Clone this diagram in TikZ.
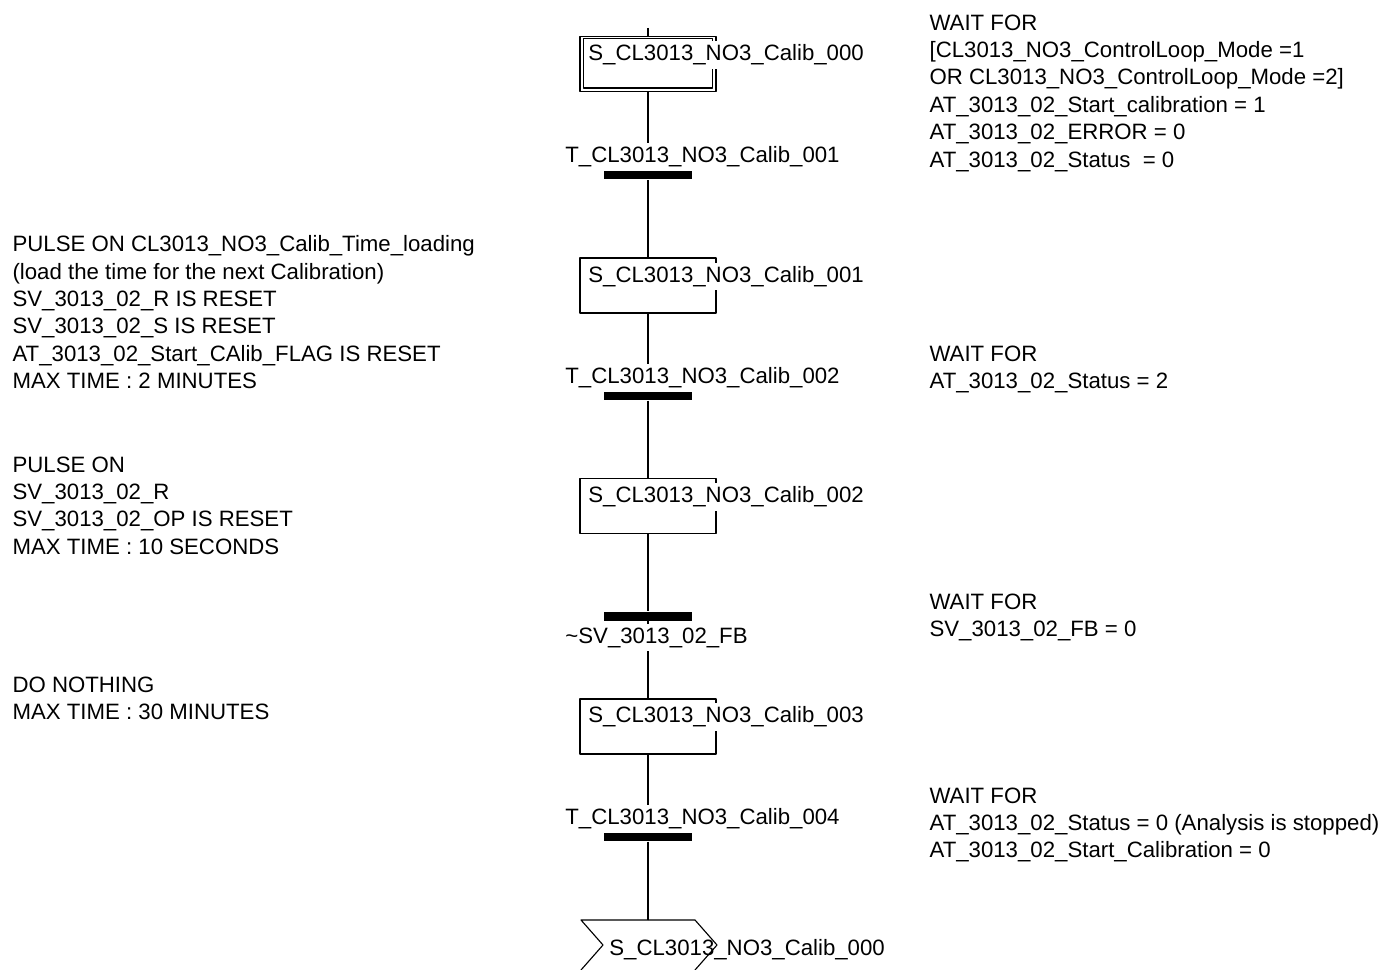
\documentclass[tikz,border=0pt]{standalone}
\usepackage{fontspec}
\setmainfont{Liberation Sans}

\tikzset{
	stepbox/.style={draw, minimum width=136*0.025cm, minimum height=55*0.025cm, inner sep=0pt},
	trbar/.style={fill=black, minimum width=88*0.025cm, minimum height=9*0.025cm, inner sep=0pt},
	lbl/.style={fill=white, inner xsep=0.6pt, inner ysep=2.5pt, anchor=west},
	note/.style={align=left, anchor=north west, inner sep=0pt}
}

\begin{document}
\begin{tikzpicture}[x=0.025cm, y=-0.025cm, line width=0.8pt, font=\fontsize{15.8}{19.5}\selectfont, line join=round]
	\def\xm{648} % axe du grafcet
	\useasboundingbox (0,0) rectangle (1399,970);
	% etapes et transitions
	\node[stepbox] (s0) at (\xm,64) {};
	\draw ([shift={(4,3)}]s0.north west) rectangle ([shift={(-4,-4)}]s0.south east);
	\node[trbar] (t1) at (\xm,175) {};
	\node[stepbox] (s1) at (\xm,285.5) {};
	\node[trbar] (t2) at (\xm,395.5) {};
	\node[stepbox] (s2) at (\xm,506) {};
	\node[trbar] (t3) at (\xm,616) {};
	\node[stepbox] (s3) at (\xm,726.5) {};
	\node[trbar] (t4) at (\xm,836.5) {};
	\coordinate (top) at (\xm,28);
	\coordinate (jmp) at (\xm,920);
	\draw (top) -- (s0);
	\foreach \a/\b in {s0/t1,t1/s1,s1/t2,t2/s2,s2/t3,t3/s3,s3/t4,t4/jmp}
		\draw (\a) -- (\b);
	% renvoi
	\draw (jmp) -- ++(-67,0) -- ++(22,25) -- ++(-22,25);
	\draw (jmp) -- ++(47,0) -- ++(22,25) -- ++(-22,25);
	% noms
	\node[lbl] (ls0) at (587,55) {S\_CL3013\_NO3\_Calib\_000};
	\node[lbl] (lt1) at (564,157) {T\_CL3013\_NO3\_Calib\_001};
	\node[lbl] (ls1) at (587,276.5) {S\_CL3013\_NO3\_Calib\_001};
	\node[lbl] (lt2) at (564,378) {T\_CL3013\_NO3\_Calib\_002};
	\node[lbl] (ls2) at (587,497) {S\_CL3013\_NO3\_Calib\_002};
	\node[lbl] (lt3) at (564,637.5) {\textasciitilde SV\_3013\_02\_FB};
	\node[lbl] (ls3) at (587,717) {S\_CL3013\_NO3\_Calib\_003};
	\node[lbl] (lt4) at (564,819) {T\_CL3013\_NO3\_Calib\_004};
	\node[anchor=west, inner sep=0.6pt] (lj) at (608,950) {S\_CL3013\_NO3\_Calib\_000};
	% actions
	\node[note] (a1) at (12,235) {PULSE ON CL3013\_NO3\_Calib\_Time\_loading\\(load the time for the next Calibration)\\SV\_3013\_02\_R IS RESET\\SV\_3013\_02\_S IS RESET\\AT\_3013\_02\_Start\_CAlib\_FLAG IS RESET\\MAX TIME : 2 MINUTES};
	\node[note] (a2) at (12,456) {PULSE ON\\SV\_3013\_02\_R\\SV\_3013\_02\_OP IS RESET\\MAX TIME : 10 SECONDS};
	\node[note] (a3) at (12,676) {DO NOTHING\\MAX TIME : 30 MINUTES};
	% receptivites
	\node[note] (c1) at (929,14) {WAIT FOR\\{[}CL3013\_NO3\_ControlLoop\_Mode =1\\OR CL3013\_NO3\_ControlLoop\_Mode =2]\\AT\_3013\_02\_Start\_calibration = 1\\AT\_3013\_02\_ERROR = 0\\AT\_3013\_02\_Status~ = 0};
	\node[note] (c2) at (929,345) {WAIT FOR\\AT\_3013\_02\_Status = 2};
	\node[note] (c3) at (929,593) {WAIT FOR\\SV\_3013\_02\_FB = 0};
	\node[note] (c4) at (929,787) {WAIT FOR\\AT\_3013\_02\_Status = 0 (Analysis is stopped)\\AT\_3013\_02\_Start\_Calibration = 0};
\end{tikzpicture}
\end{document}
